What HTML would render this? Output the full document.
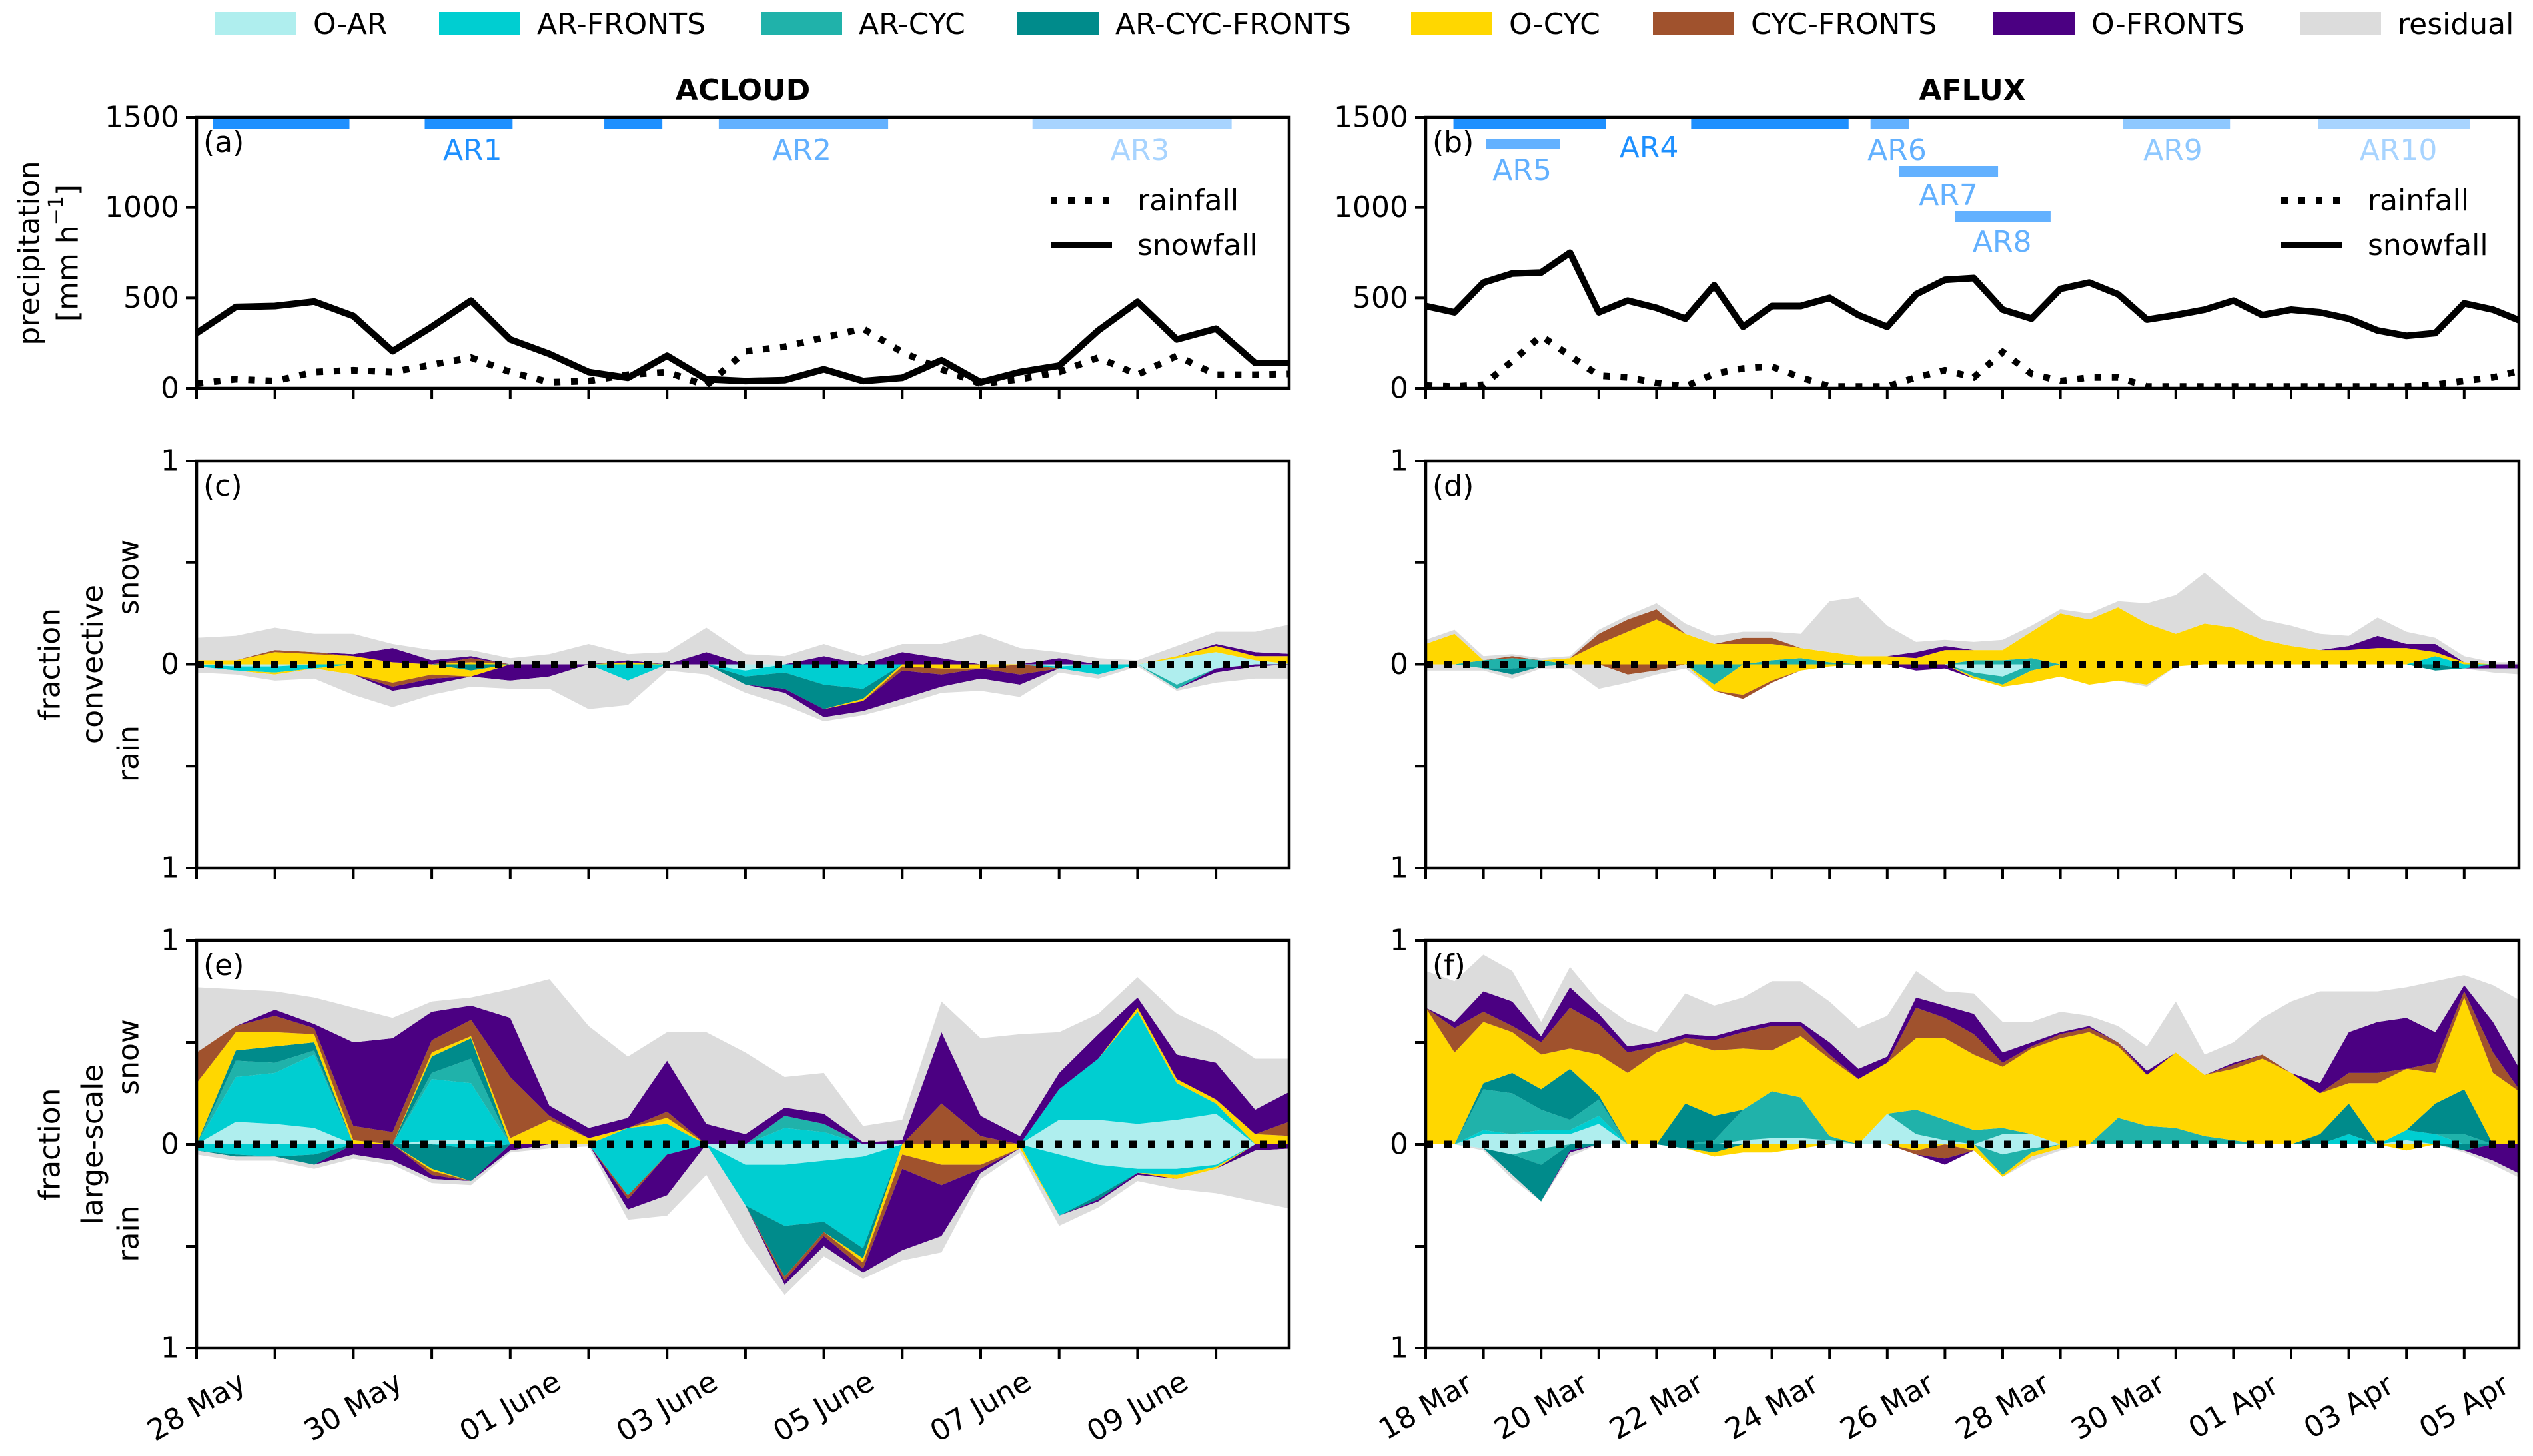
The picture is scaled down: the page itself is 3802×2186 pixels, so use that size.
<!DOCTYPE html>
<html><head><meta charset="utf-8"><style>
html,body{margin:0;padding:0;background:#fff;}
svg{display:block;font-family:"DejaVu Sans","Liberation Sans",sans-serif;}
</style></head><body>
<svg id="fig" width="3802" height="2186" viewBox="0 0 3802 2186" xmlns="http://www.w3.org/2000/svg"></svg>
<script>
// ---------- DATA ----------
// ACLOUD: 12-hourly samples, day 0 (28 May) .. day 14 ; AFLUX: day 0 (18 Mar) .. day 19
const acloudTickLabels = ["28 May","30 May","01 June","03 June","05 June","07 June","09 June"];
const afluxTickLabels = ["18 Mar","20 Mar","22 Mar","24 Mar","26 Mar","28 Mar","30 Mar","01 Apr","03 Apr","05 Apr"];
const precipTicks = [0,500,1000,1500];
const categories = ["O-AR","AR-FRONTS","AR-CYC","AR-CYC-FRONTS","O-CYC","CYC-FRONTS","O-FRONTS","residual"];

const aSnow = [305,450,455,480,400,205,340,485,270,190,90,58,180,50,40,45,105,40,58,155,33,90,125,320,478,270,330,140,140];
const aRain = [25,50,40,90,100,90,130,170,90,33,40,75,90,15,205,230,280,330,200,105,25,50,90,170,75,180,75,75,80];
const bSnow = [455,420,585,635,640,750,420,485,445,385,570,340,455,455,500,405,340,520,600,610,435,385,550,585,520,380,405,435,485,405,435,420,385,320,290,305,470,435,370];
const bRain = [15,10,20,150,290,180,70,60,30,10,80,110,120,60,10,10,10,60,100,60,200,80,40,60,60,10,10,10,10,10,10,10,10,10,10,20,40,60,100];

const acloudArStart = [0.21,2.91,5.2,6.66,10.66];
const acloudArEnd = [1.95,4.03,5.94,8.82,13.2];
const acloudArLabels = ["AR1","AR2","AR3"];
const acloudArLabelDay = [3.52,7.72,12.03];
const afluxArStart = [0.48,4.6,7.71,12.09,15.47,1.04,8.21,9.18];
const afluxArEnd = [3.12,7.33,8.38,13.94,18.1,2.33,9.92,10.83];
const afluxArLabels = ["AR5","AR4","AR6","AR7","AR8","AR9","AR10"];
const afluxArLabelDay = [1.67,3.87,8.17,9.06,9.99,12.95,16.86];

// panel c (ACLOUD convective)
const cS_OAR=[0,0,0,0,0,0,0,0,0,0,0,0,0,0,0,0,0,0,0,0,0,0,0,0,0,.03,.06,.02,0];
const cS_ARF=[0,0,0,0,0,0,0,0,0,0,0,0,0,0,0,0,0,0,0,0,0,0,0,0,0,0,0,0,0];
const cS_ARC=[0,0,0,0,0,0,0,0,0,0,0,0,0,0,0,0,0,0,0,0,0,0,0,0,0,0,0,0,0];
const cS_ACF=[0,0,0,0,0,0,0,0,0,0,0,0,0,0,0,0,0,0,0,0,0,0,0,0,0,0,0,0,0];
const cS_OC=[.02,.02,.06,.05,.04,.01,0,.01,0,0,0,.01,0,0,0,0,0,0,0,0,0,0,0,0,0,.01,.03,.02,.04];
const cS_CF=[0,0,.01,.01,0,0,0,.02,0,0,0,0,0,0,0,0,0,0,0,0,0,0,0,0,0,0,0,0,0];
const cS_OF=[0,0,0,0,.01,.07,.02,.01,0,0,0,.01,0,.06,0,0,.04,0,.06,.03,0,0,.03,0,0,0,.01,.02,.01];
const cS_RES=[.11,.12,.11,.09,.1,.02,.05,.03,.03,.05,.1,.03,.06,.12,.05,.04,.06,.04,.04,.07,.15,.08,.03,.03,.02,.05,.06,.1,.15];
const cR_OAR=[0,.01,.01,0,0,0,0,0,0,0,0,0,0,0,.03,0,0,0,0,0,0,0,.01,0,0,.1,.02,0,0];
const cR_ARF=[.01,.02,.03,.02,0,0,0,0,0,0,0,.08,0,0,.03,.04,.1,.12,0,0,0,0,.01,.05,0,0,0,0,0];
const cR_ARC=[0,0,0,0,0,0,0,0,0,0,0,0,0,0,0,0,0,0,0,0,0,0,0,0,0,.02,0,0,0];
const cR_ACF=[0,0,0,0,0,0,0,.03,0,0,0,0,0,0,.04,.08,.12,.05,0,0,0,0,0,0,0,0,0,0,0];
const cR_OC=[0,0,.01,0,.05,.09,.05,.03,0,0,0,0,0,0,0,0,0,.01,.01,.02,.02,0,0,0,0,0,0,0,0];
const cR_CF=[0,0,0,0,0,.02,.02,0,0,0,0,0,0,0,0,0,0,0,.02,.03,0,.05,0,0,0,0,0,0,0];
const cR_OF=[0,0,0,0,0,.02,.03,0,.08,.06,0,0,0,0,0,.02,.04,.05,.14,.06,.05,.05,0,0,0,0,.02,.01,0];
const cR_RES=[.03,.02,.03,.05,.1,.08,.05,.05,.04,.06,.22,.12,.03,.05,.04,.06,.02,.02,.03,.03,.06,.06,.02,.02,.01,.01,.05,.06,.07];

// panel e (ACLOUD large-scale)
const eS_OAR=[0,.11,.1,.08,0,0,.02,.02,0,0,0,0,0,0,0,0,0,0,0,0,0,0,.12,.12,.1,.12,.15,0,0];
const eS_ARF=[0,.22,.25,.36,0,0,.3,.28,0,0,0,.08,.1,0,0,.08,.06,0,0,0,0,0,.15,.3,.55,.18,.05,0,0];
const eS_ARC=[0,.08,.05,.02,0,0,.03,.12,0,0,0,0,0,0,0,.06,.04,0,0,0,0,0,0,0,0,0,0,0,0];
const eS_ACF=[0,.05,.08,.04,0,0,.08,.1,0,0,0,0,0,0,0,0,0,0,0,0,0,0,0,0,0,0,0,0,0];
const eS_OC=[.3,.09,.07,.04,.02,0,.02,.01,.03,.12,.03,0,.03,0,0,0,0,0,0,0,0,0,0,0,.02,.02,.02,.05,.04];
const eS_CF=[.15,.03,.08,.03,.07,.06,.06,.08,.3,.02,0,0,.03,0,0,0,0,0,0,.2,.04,0,0,0,0,0,0,0,.08];
const eS_OF=[0,0,.03,.02,.41,.46,.14,.07,.29,.05,.05,.05,.25,.1,.05,.04,.05,.01,.02,.35,.1,.04,.08,.12,.05,.12,.18,.12,.15];
const eS_RES=[.32,.18,.09,.13,.17,.1,.05,.04,.14,.62,.5,.3,.14,.45,.4,.15,.2,.08,.1,.15,.38,.5,.2,.1,.1,.2,.15,.25,.15];
const eR_OAR=[0,0,0,0,0,0,0,0,0,0,0,0,0,0,.1,.1,.08,.06,0,0,0,0,.05,.1,.12,.12,.1,0,0];
const eR_ARF=[.03,.05,.06,.05,0,0,0,.02,0,0,0,.25,.05,0,.2,.3,.3,.45,0,0,0,0,.3,.15,.02,.03,.01,0,0];
const eR_ARC=[0,0,0,0,0,0,0,0,0,0,0,0,0,0,0,0,0,0,0,0,0,0,0,0,0,0,0,0,0];
const eR_ACF=[0,.01,0,.05,0,0,.12,.16,0,0,0,0,0,0,0,.25,.05,.05,0,0,0,0,0,.02,0,0,0,0,0];
const eR_OC=[0,0,0,0,0,0,.01,0,0,0,0,0,0,0,0,0,0,.02,.05,.1,.1,.02,0,0,0,.02,.01,0,0];
const eR_CF=[0,0,0,0,0,0,.02,0,0,0,0,.02,0,0,0,.02,.02,.03,.07,.1,.02,0,0,0,0,0,0,0,0];
const eR_OF=[0,0,0,0,.05,.08,.02,0,.03,0,0,.05,.2,0,0,.02,.05,.02,.4,.25,.02,0,0,.01,.01,0,0,.03,.02];
const eR_RES=[.02,.02,.02,.02,.02,.02,.02,.02,.01,.02,.01,.05,.1,.15,.18,.05,.05,.03,.05,.08,.03,.02,.05,.03,.03,.05,.12,.25,.3];

// panel d (AFLUX convective)
const dS_OAR=[0,0,0,0,0,0,0,0,0,0,0,0,0,0,0,0,0,0,0,0,0,0,0,0,0,0,0,0,0,0,0,0,0,0,0,0,0,0,0];
const dS_ARF=[0,0,0,0,0,0,0,0,0,0,0,0,0,0,0,0,0,0,0,0,0,0,0,0,0,0,0,0,0,0,0,0,0,0,0,.04,0,0,0];
const dS_ARC=[0,0,.02,.03,.02,0,0,0,0,0,0,0,.02,.03,.01,0,0,0,0,.02,.02,.03,0,0,0,0,0,0,0,0,0,0,0,0,0,0,0,0,0];
const dS_ACF=[0,0,0,0,0,0,0,0,0,0,0,0,0,0,0,0,0,0,0,0,0,0,0,0,0,0,0,0,0,0,0,0,0,0,0,0,0,0,0];
const dS_OC=[.1,.15,0,0,0,.03,.1,.16,.22,.15,.1,.1,.08,.05,.05,.04,.04,.03,.07,.05,.05,.13,.25,.22,.28,.2,.15,.2,.18,.12,.09,.07,.07,.08,.08,.02,.01,0,0];
const dS_CF=[0,0,0,.01,0,0,.05,.06,.05,0,0,.03,.03,0,0,0,0,0,0,0,0,0,0,0,0,0,0,0,0,0,0,0,0,0,0,0,0,0,0];
const dS_OF=[0,0,0,0,0,0,0,0,0,0,0,0,0,0,0,0,0,.03,.02,0,0,0,0,0,0,0,0,0,0,0,0,0,.02,.06,.02,.04,0,0,0];
const dS_RES=[.02,.02,.02,.01,.01,.01,.02,.02,.03,.05,.04,.03,.03,.07,.25,.29,.15,.05,.03,.04,.05,.03,.02,.03,.03,.1,.19,.25,.15,.1,.1,.08,.05,.09,.06,.03,.03,.01,.01];
const dR_OAR=[0,0,0,0,0,0,0,0,0,0,0,0,0,0,0,0,0,0,0,.04,.06,0,0,0,0,0,0,0,0,0,0,0,0,0,0,0,0,0,0];
const dR_ARF=[0,0,0,0,0,0,0,0,0,0,0,0,0,0,0,0,0,0,0,0,0,0,0,0,0,0,0,0,0,0,0,0,0,0,0,0,.02,0,0];
const dR_ARC=[0,0,.02,.02,.01,0,0,0,0,0,.1,0,0,0,0,0,0,0,0,.02,.04,.03,0,0,0,0,0,0,0,0,0,0,0,0,0,0,0,0,0];
const dR_ACF=[0,0,0,.03,0,0,0,0,0,0,0,0,0,0,0,0,0,0,0,0,0,0,0,0,0,0,0,0,0,0,0,0,0,0,0,.03,0,0,0];
const dR_OC=[0,0,0,0,0,0,0,0,0,0,.03,.15,.08,.03,.01,0,0,0,0,.01,.01,.06,.06,.1,.08,.1,.01,0,0,0,0,0,0,0,0,0,0,0,0];
const dR_CF=[0,0,0,0,0,0,0,.05,.03,0,0,.02,.01,0,0,0,0,0,0,0,0,0,0,0,0,0,0,0,0,0,0,0,0,0,0,0,0,0,0];
const dR_OF=[0,0,0,0,0,0,0,0,0,0,0,0,0,0,0,0,0,.03,.02,0,0,0,0,0,0,0,0,0,0,0,0,0,0,0,0,0,0,.02,.02];
const dR_RES=[.03,.03,.01,.02,.01,.02,.12,.04,.02,.02,0,0,0,0,0,0,0,0,0,0,0,0,0,0,0,.01,0,0,0,0,0,0,0,0,0,0,0,.02,.03];

// panel f (AFLUX large-scale)
const fS_OAR=[0,0,.05,.05,.05,.05,.1,0,0,0,0,.02,.03,.03,.02,0,.15,.05,.02,0,.05,.05,0,0,0,0,0,0,0,0,0,0,0,0,.02,0,0,0,0];
const fS_ARF=[0,0,.02,0,.02,.02,.04,0,0,0,0,0,0,0,0,0,0,0,0,0,0,0,0,0,0,0,0,0,0,0,0,0,.05,0,.05,.05,0,0,0];
const fS_ARC=[0,0,.2,.2,.1,.05,.08,0,0,0,.02,.15,.23,.2,.02,0,0,.12,.1,.07,.03,0,0,0,.13,.09,.08,.04,.02,0,0,0,0,0,0,0,.05,0,0];
const fS_ACF=[0,0,.03,.1,.1,.25,.02,0,0,.2,.12,0,0,0,0,0,0,0,0,0,0,0,0,0,0,0,0,0,0,0,0,.05,.15,0,0,.15,.22,0,0];
const fS_OC=[.67,.45,.3,.2,.17,.1,.2,.35,.45,.3,.32,.3,.2,.3,.38,.32,.25,.35,.4,.37,.3,.42,.52,.55,.35,.25,.37,.3,.35,.42,.35,.2,.1,.3,.3,.15,.45,.35,.25];
const fS_CF=[0,.12,.05,.03,.06,.2,.15,.1,.03,.02,.05,.08,.12,.05,.02,0,0,.15,.1,.1,.02,.01,.02,.02,.02,0,0,0,.02,.02,0,0,.05,.05,0,.05,.03,.1,0];
const fS_OF=[0,.03,.1,.12,.03,.1,.05,.03,.02,.02,.02,.02,.02,.02,.06,.05,.03,.05,.06,.1,.05,.02,.01,.01,0,.02,0,0,.01,0,0,.05,.2,.25,.25,.15,.03,.15,.1];
const fS_RES=[.18,.2,.18,.15,.07,.1,.06,.12,.05,.2,.15,.15,.2,.2,.2,.2,.2,.13,.07,.1,.15,.1,.1,.05,.08,.12,.25,.1,.1,.18,.35,.45,.2,.15,.15,.25,.05,.18,.35];
const fR_OAR=[0,0,.02,.05,.02,0,0,0,0,0,0,0,0,0,0,0,0,0,0,0,.05,.02,0,0,0,0,0,0,0,0,0,0,0,0,0,0,0,0,0];
const fR_ARF=[0,0,0,0,0,0,0,0,0,0,0,0,0,0,0,0,0,0,0,0,0,0,0,0,0,0,0,0,0,0,0,0,0,0,0,0,0,0,0];
const fR_ARC=[0,0,0,0,.08,0,0,0,0,0,0,0,0,0,0,0,0,0,0,0,.1,.02,0,0,0,0,0,0,0,0,0,0,0,0,0,0,0,0,0];
const fR_ACF=[0,0,0,.1,.18,.03,0,0,0,.02,.04,0,0,0,0,0,0,0,0,0,0,0,0,0,0,0,0,0,0,0,0,0,0,0,0,0,.03,0,0];
const fR_OC=[0,0,0,0,0,0,0,0,0,0,.02,.04,.04,.02,0,0,0,.03,0,.03,.01,.02,.02,0,0,0,0,0,0,0,0,0,0,0,.03,0,0,0,0];
const fR_CF=[0,0,0,0,0,0,0,0,0,0,0,0,0,0,0,0,0,.02,.07,0,0,0,0,0,0,0,0,0,0,0,0,0,0,0,0,0,0,0,0];
const fR_OF=[0,0,0,0,0,.01,0,0,0,0,0,0,0,0,0,0,0,0,.03,0,0,0,0,0,0,0,0,0,0,0,0,0,0,0,0,0,0,.08,.15];
const fR_RES=[0,0,.01,.02,0,.02,0,0,0,0,0,0,0,0,0,0,0,0,0,0,0,.02,.01,0,0,0,0,0,0,0,0,0,0,0,0,0,.01,.02,.02];

// ---------- STYLE ----------
const COLORS = ["#AFEEEE","#00CED1","#20B2AA","#008B8B","#FFD700","#A0522D","#4B0082","#DCDCDC"];
const NS = "http://www.w3.org/2000/svg";
const svg = document.getElementById("fig");
function mk(tag, attrs, parent){ const e=document.createElementNS(NS,tag); for(const k in attrs) e.setAttribute(k,attrs[k]); (parent||svg).appendChild(e); return e; }

const COLS = { acloud:{x0:295,x1:1935,dw:117.7}, aflux:{x0:2140,x1:3781,dw:86.6} };
const ROWS = { a:{t:176,b:583}, c:{t:692,b:1303}, e:{t:1412,b:2024} };
const FS = 44;

function xScale(col,d){ return COLS[col].x0 + d*COLS[col].dw; }

// ---------- LEGEND ----------
const legendX = [323,659,1142,1527,2118,2481,2992,3452];
categories.forEach((c,i)=>{
  const g = mk("g",{});
  
  
  mk("rect",{x:legendX[i],y:18,width:122,height:34,fill:COLORS[i]},g);
  const t = mk("text",{x:legendX[i]+147,y:51,"font-size":44},g);
  t.textContent = c;
});

// ---------- PANEL HELPERS ----------
let clipId=0;
function frame(col,row,name){
  const C=COLS[col], R=ROWS[row];
  clipId++;
  const cp = mk("clipPath",{id:"cp"+clipId});
  mk("rect",{x:C.x0,y:R.t,width:C.x1-C.x0,height:R.b-R.t},cp);
  const g = mk("g",{"clip-path":"url(#cp"+clipId+")"});
  
  
  return g;
}
function border(col,row,name){
  const C=COLS[col], R=ROWS[row];
  const r = mk("rect",{x:C.x0,y:R.t,width:C.x1-C.x0,height:R.b-R.t,fill:"none",stroke:"#000","stroke-width":4.5});
  
  
  const nd = Math.floor((C.x1-C.x0)/C.dw+1e-6);
  for(let d=0; d<=nd; d++){
    const x=xScale(col,d);
    const tk = mk("line",{x1:x,x2:x,y1:R.b,y2:R.b+16,stroke:"#000","stroke-width":4});
    
    
  }
}
function ytick(col,y,label){
  const C=COLS[col];
  const tk = mk("line",{x1:C.x0-16,x2:C.x0,y1:y,y2:y,stroke:"#000","stroke-width":4});
  
  
  if(label!==null){
    const t = mk("text",{x:C.x0-26,y:y,"font-size":FS,"text-anchor":"end","dominant-baseline":"central"});
    
    
    t.textContent=label;
  }
}
function panelLabel(col,row,txt){
  const t = mk("text",{x:COLS[col].x0+10,y:ROWS[row].t+52,"font-size":FS});
  
  
  t.textContent=txt;
}

function stacked(col,row,name,snow,rain){
  const g = frame(col,row,name);
  const R=ROWS[row], zero=(R.t+R.b)/2, unit=(R.b-R.t)/2;
  [[snow,-1,'snow'],[rain,1,'rain']].forEach(([series,sgn,kind])=>{
    const n=series[0].length;
    const cum=new Array(n).fill(0);
    series.forEach((vals,k)=>{
      const up=[], lo=[];
      for(let i=0;i<n;i++){
        const x=xScale(col,i*0.5);
        lo.push([x, zero+sgn*cum[i]*unit]);
        cum[i]+=vals[i];
        up.push([x, zero+sgn*cum[i]*unit]);
      }
      const pts = up.concat(lo.reverse()).map(p=>p[0].toFixed(1)+","+p[1].toFixed(1)).join(" ");
      const poly = mk("polygon",{points:pts,fill:COLORS[k]},g);
      
      
    });
  });
  const z = mk("line",{x1:COLS[col].x0,x2:COLS[col].x1,y1:zero,y2:zero,stroke:"#000","stroke-width":11,"stroke-dasharray":"11 17"},g);
  
  
  border(col,row,name);
  ytick(col,R.t,"1"); ytick(col,R.t+unit*0.5,null); ytick(col,zero,"0"); ytick(col,zero+unit*0.5,null); ytick(col,R.b,"1");
}

function lines(col,name,snow,rain,starts,ends,barY,barC,labs,labDay,labY,labC,legX){
  const g = frame(col,'a',name);
  const R=ROWS.a; const ys=v=>R.b-(v/1500)*(R.b-R.t);
  const mkpath=(arr)=>arr.map((v,i)=>(i?"L":"M")+xScale(col,i*0.5).toFixed(1)+","+ys(v).toFixed(1)).join(" ");
  const pr = mk("path",{d:mkpath(rain),fill:"none",stroke:"#000","stroke-width":10,"stroke-dasharray":"10 16"},g);
  
  
  const ps = mk("path",{d:mkpath(snow),fill:"none",stroke:"#000","stroke-width":10,"stroke-linejoin":"round"},g);
  
  
  starts.forEach((s,i)=>{
    const r = mk("rect",{x:xScale(col,s),y:barY[i],width:(ends[i]-s)*COLS[col].dw,height:16,fill:barC[i]},g);
    
    
  });
  labs.forEach((l,i)=>{
    const t = mk("text",{x:xScale(col,labDay[i]),y:labY[i],"font-size":FS,"text-anchor":"middle",fill:labC[i]},g);
    
    
    t.textContent=l;
  });
  border(col,'a',name);
  precipTicks.forEach(v=>ytick(col,ys(v),String(v)));
  const lg = mk("g",{});
  
  
  mk("line",{x1:legX,x2:legX+92,y1:301,y2:301,stroke:"#000","stroke-width":10,"stroke-dasharray":"10 16"},lg);
  mk("line",{x1:legX,x2:legX+92,y1:368,y2:368,stroke:"#000","stroke-width":10},lg);
  const t1=mk("text",{x:legX+130,y:316,"font-size":FS},lg); t1.textContent="rainfall";
  const t2=mk("text",{x:legX+130,y:383,"font-size":FS},lg); t2.textContent="snowfall";
}

const DARK="#1E90FF", MED="#63B1FF", LIGHT="#A8D4FF", MID2="#8EC8FF";
lines('acloud','panel-a',aSnow,aRain,acloudArStart,acloudArEnd,[177,177,177,177,177],[DARK,DARK,DARK,MED,LIGHT],
  acloudArLabels,acloudArLabelDay,[240,240,240],[DARK,MED,LIGHT],1577);
lines('aflux','panel-b',bSnow,bRain,afluxArStart,afluxArEnd,[177,177,177,177,177,208,249,317],[DARK,DARK,MED,MID2,LIGHT,MED,MED,MED],
  afluxArLabels,afluxArLabelDay,[270,236,240,308,378,240,240],[MED,DARK,MED,MED,MED,MID2,LIGHT],3424);

stacked('acloud','c','panel-c',[cS_OAR,cS_ARF,cS_ARC,cS_ACF,cS_OC,cS_CF,cS_OF,cS_RES],[cR_OAR,cR_ARF,cR_ARC,cR_ACF,cR_OC,cR_CF,cR_OF,cR_RES]);
stacked('aflux','c','panel-d',[dS_OAR,dS_ARF,dS_ARC,dS_ACF,dS_OC,dS_CF,dS_OF,dS_RES],[dR_OAR,dR_ARF,dR_ARC,dR_ACF,dR_OC,dR_CF,dR_OF,dR_RES]);
stacked('acloud','e','panel-e',[eS_OAR,eS_ARF,eS_ARC,eS_ACF,eS_OC,eS_CF,eS_OF,eS_RES],[eR_OAR,eR_ARF,eR_ARC,eR_ACF,eR_OC,eR_CF,eR_OF,eR_RES]);
stacked('aflux','e','panel-f',[fS_OAR,fS_ARF,fS_ARC,fS_ACF,fS_OC,fS_CF,fS_OF,fS_RES],[fR_OAR,fR_ARF,fR_ARC,fR_ACF,fR_OC,fR_CF,fR_OF,fR_RES]);

panelLabel('acloud','a','(a)'); panelLabel('aflux','a','(b)');
panelLabel('acloud','c','(c)'); panelLabel('aflux','c','(d)');
panelLabel('acloud','e','(e)'); panelLabel('aflux','e','(f)');

[['acloud','ACLOUD'],['aflux','AFLUX']].forEach(([c,t])=>{
  const e = mk("text",{x:(COLS[c].x0+COLS[c].x1)/2,y:150,"font-size":FS,"font-weight":"bold","text-anchor":"middle"});
  
  
  e.textContent=t;
});

function xlabels(col,labels){
  labels.forEach((l,i)=>{
    const x=xScale(col,i*2), y=2112;
    const t = mk("text",{x:x,y:y,"font-size":FS,"text-anchor":"middle","dominant-baseline":"central",transform:"rotate(-30 "+x+" "+y+")"});
    
    
    t.textContent=l;
  });
}
xlabels('acloud',acloudTickLabels);
xlabels('aflux',afluxTickLabels);

function vtext(x,y,txt,name){
  const t = mk("text",{x:x,y:y,"font-size":FS,"text-anchor":"middle","dominant-baseline":"central",transform:"rotate(-90 "+x+" "+y+")"});
  
  
  t.textContent=txt; return t;
}
vtext(44,380,"precipitation","y-axis-title-precipitation");
const u = vtext(102,380,"","y-axis-title-units");
u.appendChild(document.createTextNode("[mm h"));
const sup=document.createElementNS(NS,"tspan"); sup.setAttribute("baseline-shift","super"); sup.setAttribute("font-size","30"); sup.textContent="\u22121"; u.appendChild(sup);
u.appendChild(document.createTextNode("]"));
[['c','convective'],['e','large-scale']].forEach(([r,w])=>{
  const z=(ROWS[r].t+ROWS[r].b)/2;
  vtext(75,z,"fraction","y-axis-title-fraction");
  vtext(139,z,w,"y-axis-title-"+w);
  vtext(193,z-131,"snow","y-axis-title-snow");
  vtext(193,z+134,"rain","y-axis-title-rain");
});
</script>
</body></html>
